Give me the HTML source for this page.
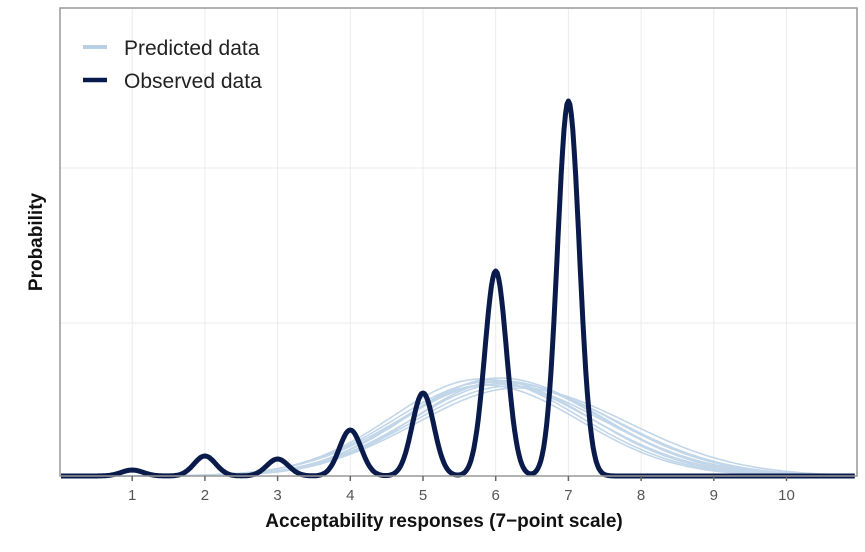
<!DOCTYPE html>
<html><head><meta charset="utf-8"><style>
body{margin:0;background:#fff;width:865px;height:552px;overflow:hidden}
svg{display:block}
</style></head><body>
<svg id="s" width="865" height="552" xmlns="http://www.w3.org/2000/svg" font-family="Liberation Sans, sans-serif">
<rect x="0" y="0" width="865" height="552" fill="#fff"/>
<g id="grid" stroke="#ebebeb" stroke-width="1"></g>
<g id="pred" fill="none" stroke="#b8cfe6" stroke-width="1.6" opacity="0.85"></g>
<path id="obs" fill="none" stroke="#0a1b4b" stroke-width="5" stroke-linejoin="round"/>
<rect x="60" y="8" width="797" height="468" fill="none" stroke="#999" stroke-width="1.5"/>
<g id="ticks" stroke="#666" stroke-width="1.5"></g>
<g id="tl" font-size="15" fill="#555" text-anchor="middle"></g>
<text x="444" y="527" font-size="19" font-weight="bold" text-anchor="middle" fill="#111">Acceptability responses (7−point scale)</text>
<text transform="translate(42,242) rotate(-90)" font-size="19" font-weight="bold" text-anchor="middle" fill="#111">Probability</text>
<line x1="83" y1="47" x2="107" y2="47" stroke="#b8cfe6" stroke-width="4"/>
<line x1="83" y1="80" x2="107" y2="80" stroke="#0a1b4b" stroke-width="4.5"/>
<text x="124" y="55" font-size="21" fill="#222">Predicted data</text>
<text x="124" y="88" font-size="21" fill="#222">Observed data</text>
</svg>
<script>
var X0=59.5,S=72.7,B=476;
function px(v){return X0+v*S;}
var ns="http://www.w3.org/2000/svg";
function el(p,t,a){var e=document.createElementNS(ns,t);for(var k in a)e.setAttribute(k,a[k]);document.getElementById(p).appendChild(e);return e;}
for(var i=1;i<=10;i++){el("grid","line",{x1:px(i),x2:px(i),y1:8,y2:476});el("ticks","line",{x1:px(i),x2:px(i),y1:476,y2:481});var t=el("tl","text",{x:px(i),y:500});t.textContent=i;}
[168,323].forEach(function(y){el("grid","line",{x1:60,x2:857,y1:y,y2:y});});
var preds=[[5.8,97,1.3],[5.9,94,1.35],[6.0,92,1.4],[6.1,95,1.3],[6.2,90,1.4],[5.85,91,1.25],[6.05,98,1.33],[6.3,88,1.45],[5.95,96,1.28],[6.15,93,1.38]];
preds.forEach(function(p){var d="";for(var v=0.05;v<=10.9;v+=0.05){var sl=v<p[0]?p[2]*0.95:p[2]*1.05;var y=B-p[1]*Math.exp(-Math.pow(v-p[0],2)/(2*sl*sl));d+=(d?"L":"M")+px(v).toFixed(1)+","+y.toFixed(1);}el("pred","path",{d:d});});
var pk=[[1,6],[2,20],[3,17],[4,46],[5,83],[6,205],[7,375]],sg=0.15,d="";
for(var v=0.02;v<=10.95;v+=0.02){var h=0;pk.forEach(function(q){h+=q[1]*Math.exp(-Math.pow(v-q[0],2)/(2*sg*sg));});d+=(d?"L":"M")+px(v).toFixed(1)+","+(B-h).toFixed(1);}
document.getElementById("obs").setAttribute("d",d);
</script>
</body></html>
